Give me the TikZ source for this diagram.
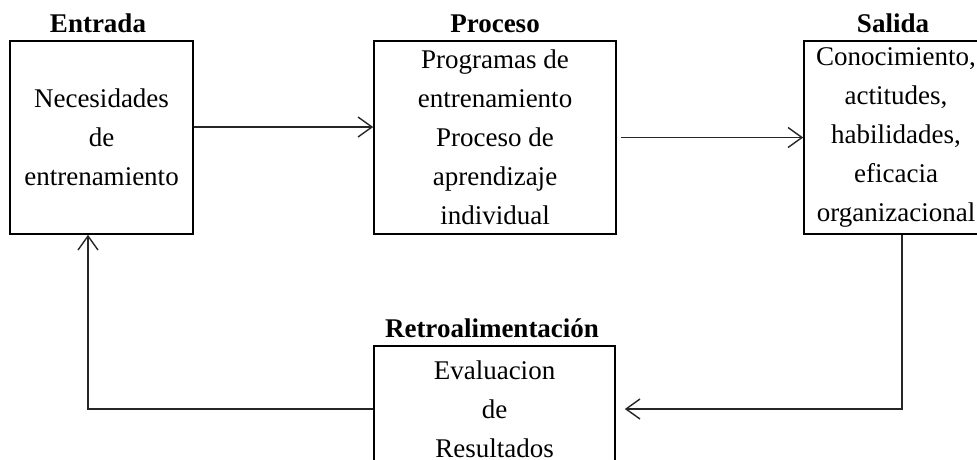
\documentclass[tikz,border=0pt]{standalone}
\usepackage{fontspec}
\setmainfont{Liberation Serif}
\usetikzlibrary{arrows.meta}
\begin{document}
\begin{tikzpicture}[x=1pt,y=-1pt,
  box/.style={draw=black,line width=1.6pt,inner sep=0pt,align=center,
    font=\fontsize{27}{39}\selectfont},
  ttl/.style={anchor=base,inner sep=0pt,font=\fontsize{27}{32}\selectfont\bfseries},
  arr/.style={draw=black!85,line width=1.4pt,-{Straight Barb[length=14pt,width=20pt,line width=1.4pt]}},
  conn/.style={draw=black!85,line width=1.4pt}]
\useasboundingbox (0,0) rectangle (977,459);
\clip (0,0) rectangle (977,459);
\node[box,minimum width=183pt,minimum height=193pt] (ent) at (101.5,137.5)
  {Necesidades\\de\\entrenamiento};
\node[box,minimum width=242pt,minimum height=193pt] (pro) at (495,137.5)
  {Programas de\\entrenamiento\\Proceso de\\aprendizaje\\individual};
\node[box,minimum width=184pt,minimum height=193pt] (sal) at (896,137.5)
  {Conocimiento,\\actitudes,\\habilidades,\\eficacia\\organizacional};
\node[box,minimum width=241pt,minimum height=126pt] (ret) at (494.5,409)
  {Evaluacion\\de\\Resultados};
\node[ttl] (tent) at (98,32) {Entrada};
\node[ttl] (tpro) at (495,32) {Proceso};
\node[ttl] (tsal) at (893,32) {Salida};
\node[ttl] (tret) at (492,337) {Retroalimentación};
\draw[arr] ([yshift=10.5pt]ent.east) -- ([yshift=10.5pt]pro.west);
\draw[arr] ([xshift=4pt]pro.east) -- (sal.west);
\draw[arr] ([xshift=6pt]sal.south) |- ([xshift=9pt]ret.east);
\draw[arr] (ret.west) -| ([xshift=-13.5pt]ent.south);
\end{tikzpicture}
\end{document}
